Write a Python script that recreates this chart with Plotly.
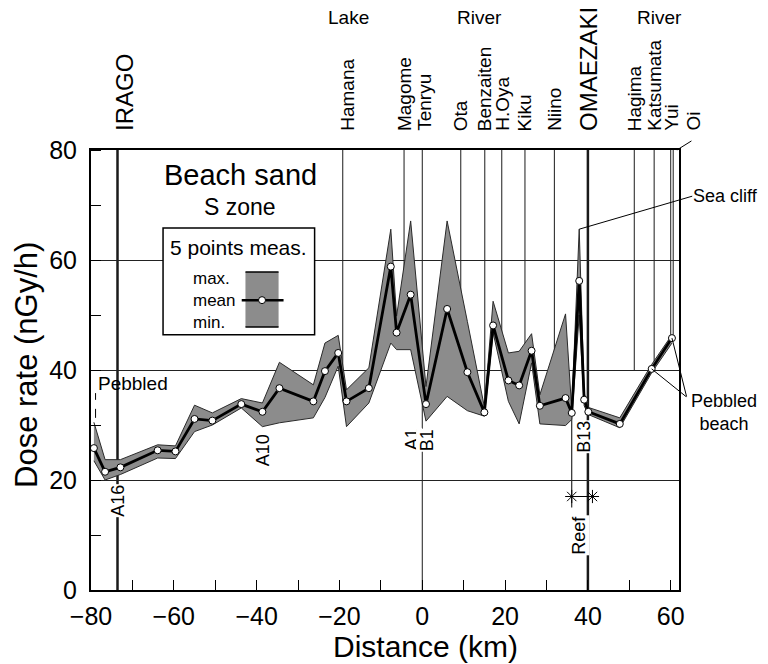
import plotly.graph_objects as go

# ---- data ----
dist = [-79.3, -76.6, -72.9, -63.9, -59.6, -55.0, -50.7, -43.7, -38.6, -34.5,
        -26.3, -23.5, -20.3, -18.3, -12.9, -7.6, -6.2, -2.8, 0.9, 6.0,
        10.9, 15.0, 17.1, 20.8, 23.4, 26.4, 28.4, 34.6, 36.1, 37.9,
        39.1, 40.1, 47.7, 55.4, 60.3]
dose_mean = [25.8, 21.5, 22.3, 25.4, 25.2, 31.1, 30.8, 33.8, 32.4, 36.7,
             34.3, 39.8, 43.1, 34.3, 36.7, 58.8, 46.8, 53.7, 33.8, 51.1,
             39.6, 32.3, 48.1, 38.1, 37.2, 43.5, 33.5, 34.9, 32.2, 56.2,
             34.6, 32.4, 30.2, 40.2, 45.8]
dose_max = [30.5, 23.7, 23.7, 26.4, 26.2, 33.6, 32.2, 34.8, 34.0, 41.4,
            37.3, 44.9, 46.3, 36.4, 40.4, 65.6, 49.8, 67.1, 37.0, 67.1,
            48.8, 33.3, 52.5, 43.1, 43.4, 46.6, 35.5, 50.2, 32.8, 65.6,
            35.8, 33.2, 31.3, 41.0, 46.4]
dose_min = [23.5, 20.0, 21.0, 24.0, 23.9, 28.8, 30.0, 33.1, 29.7, 30.4,
            31.3, 35.0, 40.7, 29.7, 34.0, 44.9, 43.7, 43.7, 30.7, 35.2,
            32.6, 31.6, 46.8, 34.3, 30.2, 41.3, 30.2, 29.9, 31.0, 50.0,
            33.5, 31.9, 29.5, 39.5, 44.9]

site_names = ["IRAGO", "Hamana", "Magome", "Tenryu", "Ota", "Benzaiten", "H.Oya",
              "Kiku", "Niino", "OMAEZAKI", "Hagima", "Katsumata", "Yui", "Oi"]
site_km = [-73.6, -19.2, -4.4, 0.0, 9.3, 15.1, 19.2, 24.8, 31.9, 40.0,
           51.2, 56.0, 60.0, 60.6]
site_line_end = [0, 34.3, 50.0, 0, 41.0, 32.5, 40.0, 40.0, 34.0, 0,
                 40.0, 40.5, 45.8, 45.8]
site_major = ["IRAGO", "OMAEZAKI"]

area_labels = ["Lake", "River", "River"]
area_km = [-17.8, 13.8, 57.3]

sample_labels = ["A16", "A10", "A1", "B1", "B13"]
sample_km = [-73.4, -38.6, -2.6, 1.0, 39.2]
sample_dose = [16.3, 25.5, 27.3, 27.3, 27.8]

reef_km = [36.1, 41.1]
reef_dose = [17, 17]

legend_rows = ["max.", "mean", "min."]

x_ticks = [-80, -60, -40, -20, 0, 20, 40, 60]
y_ticks = [0, 20, 40, 60, 80]

FONT = "Arial, Liberation Sans, sans-serif"
BAND = "rgb(140,140,140)"


def px_x(p):
    """reference pixel column -> paper x"""
    return (p - 91) / 588


def px_y(p):
    """reference pixel row -> paper y"""
    return (590 - p) / 440


fig = go.Figure()
fig.add_trace(go.Scatter(x=dist, y=dose_max, mode="lines",
                         line=dict(color="#2a2a2a", width=1), hoverinfo="skip"))
fig.add_trace(go.Scatter(x=dist, y=dose_min, mode="lines", fill="tonexty",
                         fillcolor=BAND, line=dict(color="#2a2a2a", width=1),
                         hoverinfo="skip"))
fig.add_trace(go.Scatter(x=dist, y=dose_mean, mode="lines+markers",
                         line=dict(color="black", width=2.8),
                         marker=dict(symbol="circle", size=7, color="white",
                                     line=dict(color="black", width=1))))
fig.add_trace(go.Scatter(x=reef_km, y=reef_dose, mode="lines+markers",
                         line=dict(color="black", width=1),
                         marker=dict(symbol="asterisk-open", size=11,
                                     line=dict(color="black", width=1))))

shapes = []
for name, km, end in zip(site_names, site_km, site_line_end):
    shapes.append(dict(type="line", xref="x", yref="y", x0=km, x1=km, y0=end, y1=80,
                       line=dict(color="#1a1a1a", width=2.5 if name in site_major else 1),
                       layer="below"))
# reef vertical marker
shapes.append(dict(type="line", xref="x", yref="y", x0=reef_km[0], x1=reef_km[0],
                   y0=15, y1=dose_mean[28], line=dict(color="black", width=1), layer="below"))
# pebbled dashed leader
shapes.append(dict(type="line", xref="x", yref="y", x0=dist[0] + 0.4, x1=dist[0] + 0.4,
                   y0=31.3, y1=35.8, line=dict(color="black", width=1, dash="dash")))
# legend box
shapes.append(dict(type="rect", xref="x", yref="y", x0=-62.6, x1=-26.0, y0=46.4, y1=65.8,
                   fillcolor="white", line=dict(color="black", width=1.5), layer="above"))
shapes.append(dict(type="rect", xref="x", yref="y", x0=-42.7, x1=-34.7, y0=47.8, y1=57.8,
                   fillcolor=BAND, line=dict(width=0), layer="above"))
for yy in (47.8, 57.8):
    shapes.append(dict(type="line", xref="x", yref="y", x0=-42.7, x1=-34.7, y0=yy, y1=yy,
                       line=dict(color="black", width=1.5), layer="above"))
shapes.append(dict(type="line", xref="x", yref="y", x0=-43.6, x1=-33.5, y0=52.7, y1=52.7,
                   line=dict(color="black", width=2.5), layer="above"))
shapes.append(dict(type="circle", xref="x", yref="y", xsizemode="pixel", ysizemode="pixel",
                   xanchor=-38.7, yanchor=52.7, x0=-3.5, x1=3.5, y0=-3.5, y1=3.5,
                   fillcolor="white", line=dict(color="black", width=1), layer="above"))

ann = []
for name, km in zip(site_names, site_km):
    if name == "Oi":
        continue
    big = name in site_major
    shift = {"IRAGO": 7, "Hamana": 4, "Tenryu": 2}.get(name, 0)
    ann.append(dict(text=name, x=km, xref="x", y=1, yref="paper", yshift=17, xshift=shift,
                    xanchor="center", yanchor="bottom", textangle=-90, showarrow=False,
                    font=dict(size=24 if big else 19, family=FONT, color="black")))
ann.append(dict(text="Oi", x=px_x(693), xref="paper", y=1, yref="paper", yshift=17,
                xanchor="center", yanchor="bottom", textangle=-90, showarrow=False,
                font=dict(size=19, family=FONT, color="black")))
ann.append(dict(text="", x=site_km[-1] + 0.9, y=80, xref="x", yref="y", ax=16, ay=-10,
                showarrow=True, arrowhead=0, arrowwidth=1, arrowcolor="black"))
for lab, km in zip(area_labels, area_km):
    ann.append(dict(text=lab, x=km, xref="x", y=px_y(17), yref="paper",
                    xanchor="center", yanchor="middle", showarrow=False,
                    font=dict(size=19, family=FONT, color="black")))
for lab, km, dv in zip(sample_labels, sample_km, sample_dose):
    ann.append(dict(text=lab, x=km, y=dv, xref="x", yref="y", textangle=-90,
                    xanchor="center", yanchor="middle",
                    showarrow=False, bgcolor="white", borderpad=0,
                    font=dict(size=18, family=FONT, color="black")))
ann.append(dict(text="Reef", x=37.8, y=10, xref="x", yref="y", textangle=-90,
                xanchor="center", yanchor="middle",
                showarrow=False, bgcolor="white", borderpad=0,
                font=dict(size=18, family=FONT, color="black")))
ann.append(dict(text="Beach sand", x=-44.0, y=75.5, xref="x", yref="y", showarrow=False,
                xanchor="center", yanchor="middle",
                font=dict(size=29, family=FONT, color="black")))
ann.append(dict(text="S zone", x=-43.9, y=69.6, xref="x", yref="y", showarrow=False,
                xanchor="center", yanchor="middle",
                font=dict(size=23, family=FONT, color="black")))
ann.append(dict(text="5 points meas.", x=-44.4, y=62.2, xref="x", yref="y", showarrow=False,
                xanchor="center", yanchor="middle",
                font=dict(size=21, family=FONT, color="black")))
ann.append(dict(text="<br>".join(legend_rows), x=-55.7, y=52.7, xref="x", yref="y",
                xanchor="left", yanchor="middle", align="left", borderpad=0,
                showarrow=False, font=dict(size=17, family=FONT, color="black")))
ann.append(dict(text="Pebbled", x=-78.8, y=37.6, xref="x", yref="y", xanchor="left",
                yanchor="middle",
                showarrow=False, font=dict(size=19, family=FONT, color="black")))
ann.append(dict(text="Sea cliff", x=dist[29], y=dose_max[29], xref="x", yref="y",
                ax=113, ay=-33, xanchor="left", yanchor="middle", showarrow=True,
                arrowhead=0, arrowwidth=1, arrowcolor="black", borderpad=0,
                font=dict(size=18, family=FONT, color="black")))
ann.append(dict(text="", x=dist[33], y=dose_mean[33], xref="x", yref="y", ax=36, ay=29,
                showarrow=True, arrowhead=0, arrowwidth=1, arrowcolor="black"))
ann.append(dict(text="", x=dist[34], y=dose_mean[34], xref="x", yref="y", ax=15, ay=60,
                showarrow=True, arrowhead=0, arrowwidth=1, arrowcolor="black"))
ann.append(dict(text="Pebbled<br>beach", x=px_x(724), y=px_y(412),
                xref="paper", yref="paper", showarrow=False, align="center",
                xanchor="center", yanchor="middle", borderpad=0,
                font=dict(size=18, family=FONT, color="black")))
ann.append(dict(text="Dose rate (nGy/h)", x=px_x(26), y=px_y(365),
                xref="paper", yref="paper", textangle=-90, showarrow=False,
                xanchor="center", yanchor="middle",
                font=dict(size=31, family=FONT, color="black")))
ann.append(dict(text="Distance (km)", x=px_x(425), y=px_y(646),
                xref="paper", yref="paper", showarrow=False,
                xanchor="center", yanchor="middle",
                font=dict(size=30, family=FONT, color="black")))

fig.update_layout(
    width=760, height=656, showlegend=False,
    paper_bgcolor="white", plot_bgcolor="white",
    margin=dict(l=83, r=89, t=142, b=74),
    shapes=shapes, annotations=ann,
    xaxis=dict(range=[-80, 62], tickvals=x_ticks, ticks="inside", ticklen=10,
               tickcolor="black", tickwidth=1, showline=True, linecolor="black",
               linewidth=2, mirror=True, showgrid=False, zeroline=False,
               ticklabelstandoff=3,
               tickfont=dict(size=25, family=FONT, color="black"),
               minor=dict(dtick=10, tick0=-80, ticks="inside", ticklen=10,
                          tickcolor="black", showgrid=False)),
    yaxis=dict(range=[0, 80], tickvals=y_ticks, ticks="", showline=True,
               linecolor="black", linewidth=2, mirror=True, showgrid=True,
               gridcolor="#222222", gridwidth=1, zeroline=False,
               ticklabelstandoff=7,
               tickfont=dict(size=25, family=FONT, color="black"),
               minor=dict(dtick=10, tick0=0, ticks="inside", ticklen=10,
                          tickcolor="black", showgrid=False)),
)

fig.write_html("out.html")
